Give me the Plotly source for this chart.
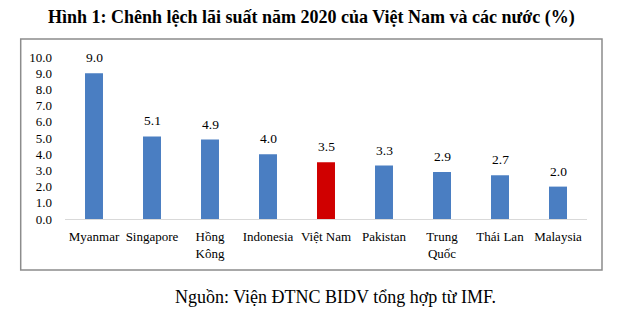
import plotly.graph_objects as go

categories = ["Myanmar", "Singapore", "Hồng<br>Kông", "Indonesia", "Việt Nam",
              "Pakistan", "Trung<br>Quốc", "Thái Lan", "Malaysia"]
values = [9.0, 5.1, 4.9, 4.0, 3.5, 3.3, 2.9, 2.7, 2.0]
highlight = "Việt Nam"
tick_vals = [0, 1, 2, 3, 4, 5, 6, 7, 8, 9, 10]
tick_text = [f"{v:.1f}" for v in tick_vals]

BLUE = "#4A7EC2"
RED = "#D00000"
colors = [RED if c == highlight else BLUE for c in categories]

SERIF = "Liberation Serif"

fig = go.Figure(go.Bar(
    x=categories, y=values,
    marker=dict(color=colors, line=dict(width=0)),
    cliponaxis=False,
))

W, H = 623, 324
L, R, T, B = 65, 36, 57, 105
pw, ph = W - L - R, H - T - B

def px_to_paper_x(px):
    return (px - L) / pw

def px_to_paper_y(py):
    return (H - B - py) / ph

annotations = [
    dict(x=c, y=v, xref="x", yref="y", text=f"{v:.1f}", showarrow=False,
         yanchor="bottom", xanchor="center", yshift=6,
         font=dict(family=SERIF, size=13.5, color="#000000"))
    for c, v in zip(categories, values)
]
annotations += [
    dict(text="<b>Hình 1: Chênh lệch lãi suất năm 2020 của Việt Nam và các nước (%)</b>",
         xref="paper", yref="paper", x=px_to_paper_x(311), y=px_to_paper_y(17),
         xanchor="center", yanchor="middle", showarrow=False,
         font=dict(family=SERIF, size=18, color="#000000")),
    dict(text="Nguồn: Viện ĐTNC BIDV tổng hợp từ IMF.",
         xref="paper", yref="paper", x=px_to_paper_x(335), y=px_to_paper_y(297),
         xanchor="center", yanchor="middle", showarrow=False,
         font=dict(family=SERIF, size=18, color="#000000")),
]

fig.update_layout(
    width=W, height=H,
    margin=dict(l=L, r=R, t=T, b=B, pad=0),
    paper_bgcolor="white", plot_bgcolor="white",
    bargap=0.69,
    showlegend=False,
    font=dict(family=SERIF, size=13, color="#000000"),
    xaxis=dict(
        showgrid=False, showline=True, linecolor="#D9D9D9", linewidth=1,
        ticks="", tickfont=dict(family=SERIF, size=13, color="#000000"),
        ticklabelstandoff=5,
        fixedrange=True,
    ),
    yaxis=dict(
        range=[0, 10], tickvals=tick_vals, ticktext=tick_text,
        showgrid=False, zeroline=False, showline=False, ticks="",
        tickfont=dict(family=SERIF, size=13, color="#000000"),
        ticklabelstandoff=12,
        fixedrange=True,
    ),
    shapes=[dict(
        type="rect", xref="paper", yref="paper",
        x0=px_to_paper_x(20.7), x1=px_to_paper_x(602),
        y0=px_to_paper_y(270), y1=px_to_paper_y(39),
        line=dict(color="#8C8C8C", width=1.5), fillcolor="rgba(0,0,0,0)",
        layer="below",
    )],
    annotations=annotations,
)

fig.write_html("out.html")
